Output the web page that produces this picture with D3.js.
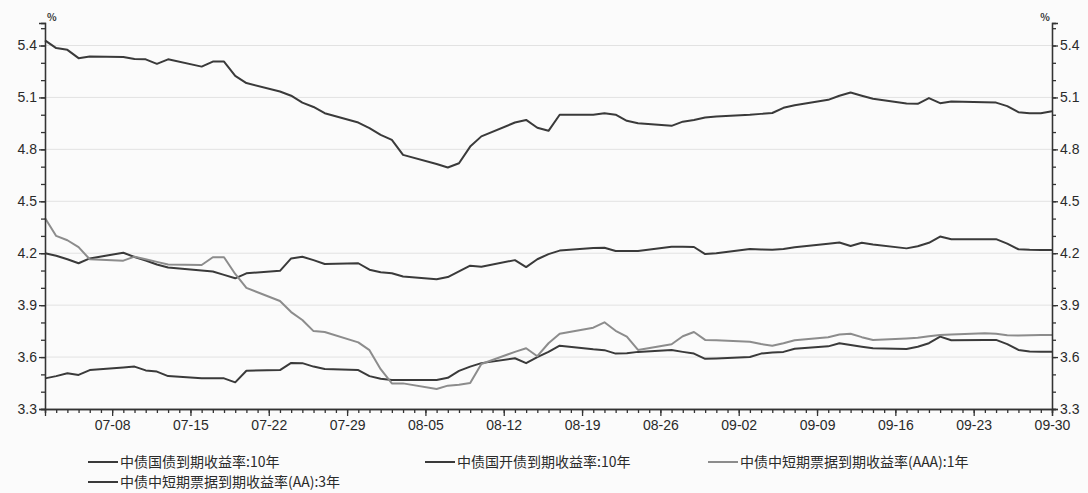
<!DOCTYPE html>
<html>
<head>
<meta charset="utf-8">
<script src="https://cdn.jsdelivr.net/npm/d3@7"></script>
<style>
  body { margin: 0; background: #fbfbfb; }
  svg { display: block; font-family: "Noto Sans CJK SC", "Noto Sans", sans-serif; }
</style>
</head>
<body>
<div id="chart"></div>
<script>
// trading days (MM-DD)
const dates = [
  "07-02","07-03","07-04","07-05","07-06",
  "07-09","07-10","07-11","07-12","07-13",
  "07-16","07-17","07-18","07-19","07-20",
  "07-23","07-24","07-25","07-26","07-27",
  "07-30","07-31","08-01","08-02","08-03",
  "08-06","08-07","08-08","08-09","08-10",
  "08-13","08-14","08-15","08-16","08-17",
  "08-20","08-21","08-22","08-23","08-24",
  "08-27","08-28","08-29","08-30","08-31",
  "09-03","09-04","09-05","09-06","09-07",
  "09-10","09-11","09-12","09-13","09-14",
  "09-17","09-18","09-19","09-20","09-21",
  "09-24","09-25","09-26","09-27","09-28",
  "09-29","09-30"
];

// 中债国债到期收益率:10年
const cgb10 = [
  3.477, 3.49, 3.506, 3.497, 3.525,
  3.54, 3.545, 3.523, 3.516, 3.49,
  3.478, 3.477, 3.477, 3.454, 3.521,
  3.525, 3.566, 3.565, 3.545, 3.531,
  3.525, 3.49, 3.475, 3.468, 3.468,
  3.468, 3.48, 3.52, 3.545, 3.565,
  3.593, 3.565, 3.6, 3.63, 3.666,
  3.645, 3.64, 3.62, 3.622, 3.63,
  3.641, 3.63, 3.62, 3.59, 3.592,
  3.6, 3.62, 3.626, 3.63, 3.648,
  3.662, 3.68, 3.67, 3.66, 3.651,
  3.647, 3.66, 3.68, 3.718, 3.697,
  3.699, 3.699, 3.675, 3.641, 3.632,
  3.631, 3.631
];

// 中债国开债到期收益率:10年
const cdb10 = [
  4.2, 4.185, 4.165, 4.142, 4.17,
  4.203, 4.178, 4.158, 4.135, 4.117,
  4.1, 4.094, 4.075, 4.055, 4.084,
  4.098, 4.17, 4.18, 4.16, 4.138,
  4.142, 4.105, 4.09, 4.084, 4.065,
  4.05, 4.062, 4.095, 4.128, 4.122,
  4.16, 4.12, 4.165, 4.195, 4.215,
  4.23, 4.232, 4.213, 4.213, 4.213,
  4.238, 4.238, 4.236, 4.195, 4.2,
  4.225, 4.222, 4.22, 4.225, 4.235,
  4.255, 4.262, 4.242, 4.26, 4.25,
  4.228, 4.24, 4.26, 4.296, 4.281,
  4.281, 4.281, 4.255, 4.223, 4.22,
  4.219, 4.219
];

// 中债中短期票据到期收益率(AAA):1年
const mtnAAA1 = [
  4.404, 4.3, 4.275, 4.235, 4.165,
  4.157, 4.18, 4.165, 4.15, 4.135,
  4.132, 4.177, 4.177, 4.08, 4.0,
  3.924, 3.86, 3.814, 3.75, 3.745,
  3.685, 3.64, 3.53, 3.448, 3.448,
  3.416, 3.435, 3.44, 3.45, 3.56,
  3.63, 3.651, 3.605, 3.68, 3.735,
  3.77, 3.801, 3.752, 3.718, 3.641,
  3.674, 3.72, 3.745, 3.699, 3.697,
  3.689, 3.675, 3.666, 3.68, 3.697,
  3.715, 3.73, 3.735, 3.715, 3.699,
  3.708, 3.712, 3.72, 3.728, 3.73,
  3.737, 3.735, 3.726, 3.724, 3.726,
  3.728, 3.728
];

// 中债中短期票据到期收益率(AA):3年
const mtnAA3 = [
  5.43, 5.385, 5.375, 5.327, 5.337,
  5.333, 5.322, 5.32, 5.294, 5.32,
  5.278, 5.307, 5.307, 5.225, 5.183,
  5.134, 5.11, 5.07, 5.045, 5.009,
  4.955, 4.923, 4.884, 4.855, 4.768,
  4.715, 4.695, 4.72, 4.816, 4.875,
  4.955, 4.97, 4.925, 4.907, 5.0,
  5.0, 5.009, 5.0, 4.965, 4.951,
  4.936, 4.96, 4.97, 4.984, 4.99,
  5.0, 5.005, 5.01, 5.04, 5.055,
  5.086, 5.11, 5.128, 5.11, 5.092,
  5.065, 5.063, 5.096, 5.067, 5.076,
  5.072, 5.07, 5.05, 5.015, 5.009,
  5.009, 5.02
];

const seriesNames = [
  "中债国债到期收益率:10年",
  "中债国开债到期收益率:10年",
  "中债中短期票据到期收益率(AAA):1年",
  "中债中短期票据到期收益率(AA):3年"
];
const seriesColors = ["#3a3a3a", "#3a3a3a", "#8c8c8c", "#3a3a3a"];

const xTickLabels = ["07-08","07-15","07-22","07-29","08-05","08-12","08-19","08-26","09-02","09-09","09-16","09-23","09-30"];
const yTickLabels = [3.3, 3.6, 3.9, 4.2, 4.5, 4.8, 5.1, 5.4];

const width = 1088, height = 493;
const margin = {top: 23, right: 36, bottom: 84, left: 45};

const parseDate = s => d3.timeParse("%Y-%m-%d")("2012-" + s);

const svg = d3.select("#chart").append("svg")
    .attr("width", width)
    .attr("height", height);

svg.append("rect").attr("width", width).attr("height", height).attr("fill", "#fbfbfb");

const x = d3.scaleTime()
    .domain([parseDate("07-02"), parseDate("09-30")])
    .range([margin.left, width - margin.right]);

const y = d3.scaleLinear()
    .domain([3.3, 5.53])
    .range([height - margin.bottom, margin.top]);

const x0 = margin.left, x1 = width - margin.right;
const yBottom = height - margin.bottom;

// gridlines
svg.append("g")
    .selectAll("line")
    .data(yTickLabels.slice(1))
    .join("line")
    .attr("x1", x0).attr("x2", x1)
    .attr("y1", d => y(d)).attr("y2", d => y(d))
    .attr("stroke", "#e2e2e2")
    .attr("stroke-width", 1);

// lines
const line = d3.line()
    .x(d => x(d.date))
    .y(d => y(d.value));

const allSeries = [cgb10, cdb10, mtnAAA1, mtnAA3];
allSeries.forEach((vals, i) => {
    const pts = dates.map((d, j) => ({date: parseDate(d), value: vals[j]}));
    svg.append("path")
        .datum(pts)
        .attr("fill", "none")
        .attr("stroke", seriesColors[i])
        .attr("stroke-width", 2)
        .attr("stroke-linejoin", "round")
        .attr("d", line);
});

// y axes with minor ticks every 0.1
const minorY = d3.range(33, 56).map(v => v / 10);
function styleAxis(g) {
    g.select(".domain").attr("stroke", "#333").attr("stroke-width", 1.3);
    g.selectAll(".tick line").attr("stroke", "#333").attr("stroke-width", 1.3);
    g.selectAll("text").attr("fill", "#2a2a2a").style("font-size", "14px");
}

const leftMinor = svg.append("g")
    .attr("transform", `translate(${x0},0)`)
    .call(d3.axisLeft(y).tickValues(minorY).tickSize(4).tickFormat(""));
styleAxis(leftMinor);

const leftAxis = svg.append("g")
    .attr("transform", `translate(${x0},0)`)
    .call(d3.axisLeft(y).tickValues(yTickLabels).tickSize(6).tickPadding(2).tickFormat(d3.format(".1f")));
styleAxis(leftAxis);

const rightMinor = svg.append("g")
    .attr("transform", `translate(${x1},0)`)
    .call(d3.axisRight(y).tickValues(minorY).tickSize(4).tickFormat(""));
styleAxis(rightMinor);

const rightAxis = svg.append("g")
    .attr("transform", `translate(${x1},0)`)
    .call(d3.axisRight(y).tickValues(yTickLabels).tickSize(6).tickPadding(2).tickFormat(d3.format(".1f")));
styleAxis(rightAxis);

// x axis: daily minor ticks, weekly labelled ticks
const xMinor = svg.append("g")
    .attr("transform", `translate(0,${yBottom})`)
    .call(d3.axisBottom(x).ticks(d3.timeDay.every(1)).tickSize(4).tickFormat(""));
styleAxis(xMinor);

const xMajor = svg.append("g")
    .attr("transform", `translate(0,${yBottom})`)
    .call(d3.axisBottom(x).tickValues(xTickLabels.map(parseDate)).tickSize(7).tickPadding(4).tickFormat(d3.timeFormat("%m-%d")));
styleAxis(xMajor);

// unit labels
svg.append("text").attr("x", x0 + 2).attr("y", 21)
    .attr("fill", "#333").style("font-size", "10px").style("font-weight", "bold").text("%");
svg.append("text").attr("x", x1 - 2).attr("y", 21).attr("text-anchor", "end")
    .attr("fill", "#333").style("font-size", "10px").style("font-weight", "bold").text("%");

// legend
const legendPos = [[88, 462], [425, 462], [708, 462], [88, 482]];
seriesNames.forEach((name, i) => {
    const [lx, ly] = legendPos[i];
    const g = svg.append("g").attr("transform", `translate(${lx},${ly})`);
    g.append("line")
        .attr("x1", 0).attr("x2", 30)
        .attr("stroke", seriesColors[i])
        .attr("stroke-width", 2);
    g.append("text")
        .attr("x", 32).attr("y", 5)
        .attr("fill", "#2a2a2a")
        .style("font-size", "14px")
        .text(name);
});
</script>
</body>
</html>
